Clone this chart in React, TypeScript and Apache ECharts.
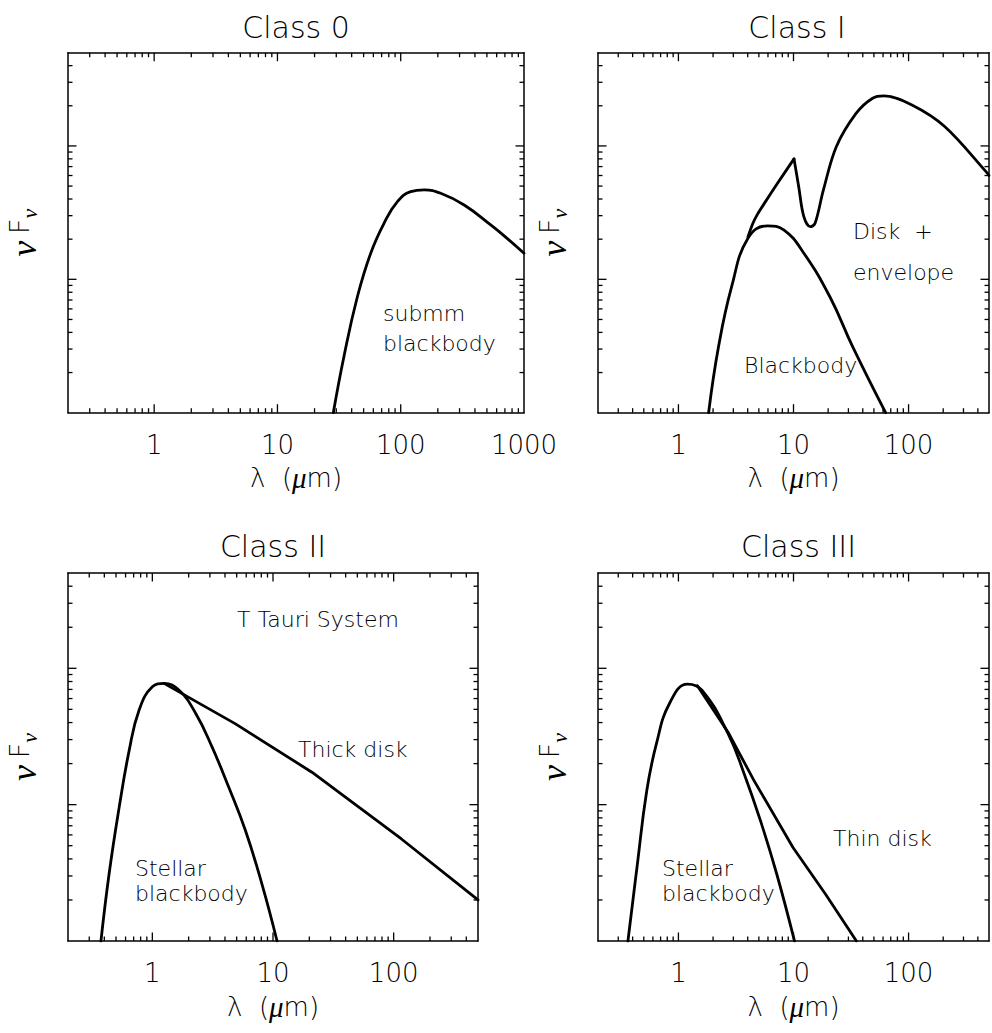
import React, { useEffect, useRef } from "react";
import * as echarts from "echarts";

// ---------- data ----------
const X_RANGE_CLASS0 = [0.2, 1000];
const X_RANGE = [0.2, 500];
const Y_RANGE = [0.1, 50];
const X_TICK_LABELS = ["1", "10", "100", "1000"];

const TITLES = ["Class 0", "Class I", "Class II", "Class III"];

// Class 0 : submm blackbody
const class0Lambda = [28.4, 34.6, 44.5, 57.1, 73.2, 94, 120.6, 154.8, 211, 327, 540, 650, 1000];
const class0Flux = [0.1, 0.263, 0.74, 1.57, 2.63, 3.82, 4.54, 4.68, 4.42, 3.61, 2.55, 2.22, 1.57];

// Class I : blackbody
const class1BbLambda = [1.83, 2.23, 2.9, 4.02, 5.96, 8.28, 12.3, 20.7, 32.8, 63.2];
const class1BbFlux = [0.1, 0.312, 0.88, 2.03, 2.52, 2.34, 1.57, 0.74, 0.31, 0.1];
// Class I : disk + envelope (rising part up to the 10 micron peak)
const class1RiseLambda = [4.02, 4.44, 4.83, 5.58, 7.26, 10.1];
const class1RiseFlux = [2.09, 2.63, 3.04, 3.71, 5.25, 8.0];
// Class I : disk + envelope (silicate dip and envelope peak)
const class1EnvLambda = [10.1, 11.1, 12.3, 14.0, 15.4, 18.2, 23.6, 35.1, 48.7, 61.2, 107, 206, 471, 500];
const class1EnvFlux = [8.0, 4.95, 2.95, 2.48, 2.63, 4.68, 9.9, 17.6, 22.8, 23.7, 20.3, 14.0, 6.42, 6.0];

// Class II : stellar blackbody
const class2StarLambda = [0.375, 0.438, 0.531, 0.643, 0.776, 1.0, 1.25, 1.66, 2.29, 3.13, 4.3, 5.92, 8.11, 10.8];
const class2StarFlux = [0.1, 0.31, 0.955, 2.5, 4.93, 7.32, 7.75, 6.92, 4.66, 2.64, 1.34, 0.643, 0.26, 0.1];
// Class II : thick disk
const class2DiskLambda = [1.25, 4.85, 21, 116, 500];
const class2DiskFlux = [7.75, 3.93, 1.73, 0.56, 0.2];

// Class III : stellar blackbody
const class3StarLambda = [0.364, 0.436, 0.531, 0.644, 0.836, 1.2, 1.6, 2.7, 3.73, 5.17, 7.15, 10.2];
const class3StarFlux = [0.1, 0.345, 1.27, 2.8, 5.52, 7.66, 6.92, 3.32, 1.68, 0.76, 0.31, 0.1];
// Class III : thin disk
const class3DiskLambda = [1.46, 2.7, 4.54, 9.9, 19, 35.2];
const class3DiskFlux = [7.45, 3.4, 1.5, 0.485, 0.22, 0.1];

// ---------- layout ----------
const GRIDS = [
  { left: 68, top: 52.7, width: 456, height: 360 },
  { left: 598, top: 52.7, width: 398, height: 360 },
  { left: 68, top: 573, width: 410, height: 368 },
  { left: 598, top: 573, width: 401, height: 368 },
];

const FONT = "DejaVu Sans";
const WEIGHT = 200;
const GREEK = "Liberation Serif";

const zip = (xs: number[], ys: number[]) => xs.map((x, i) => [x, ys[i]]);

function isPow10(v: number) {
  const l = Math.log10(v);
  return Math.abs(l - Math.round(l)) < 1e-6;
}

function tickSeries(g: number, xr: number[], yr: number[]) {
  const data: number[][] = [];
  for (let e = -1; e <= 3; e++) {
    for (let m = 1; m <= 9; m++) {
      const v = m * Math.pow(10, e);
      if (v <= xr[0] * 1.0001 || v >= xr[1] * 0.9999) continue;
      data.push([v, yr[0], 0, m === 1 ? 1 : 0]);
    }
  }
  for (let e = -1; e <= 2; e++) {
    for (let m = 1; m <= 9; m++) {
      const v = m * Math.pow(10, e);
      if (v <= yr[0] * 1.0001 || v >= yr[1] * 0.9999) continue;
      data.push([xr[0], v, 1, m === 1 ? 1 : 0]);
    }
  }
  return {
    type: "custom",
    xAxisIndex: g * 2,
    yAxisIndex: g * 2,
    coordinateSystem: "cartesian2d",
    silent: true,
    clip: false,
    z: 5,
    dimensions: ["x", "y", "kind", "major"],
    encode: { x: 0, y: 1 },
    data,
    renderItem: (params: any, api: any) => {
      const cs = params.coordSys;
      const kind = api.value(2);
      const major = api.value(3);
      const len = major ? 8.5 : 4.5;
      const style = { stroke: "#000", lineWidth: 1.3 };
      const p = api.coord([api.value(0), api.value(1)]);
      if (kind === 0) {
        const px = p[0];
        return {
          type: "group",
          children: [
            { type: "line", shape: { x1: px, y1: cs.y + cs.height, x2: px, y2: cs.y + cs.height - len }, style },
            { type: "line", shape: { x1: px, y1: cs.y, x2: px, y2: cs.y + len }, style },
          ],
        };
      }
      const py = p[1];
      return {
        type: "group",
        children: [
          { type: "line", shape: { x1: cs.x, y1: py, x2: cs.x + len, y2: py }, style },
          { type: "line", shape: { x1: cs.x + cs.width, y1: py, x2: cs.x + cs.width - len, y2: py }, style },
        ],
      };
    },
  };
}

function lineSeries(g: number, xs: number[], ys: number[], smooth: number | boolean) {
  return {
    type: "line",
    xAxisIndex: g * 2,
    yAxisIndex: g * 2,
    data: zip(xs, ys),
    symbol: "none",
    smooth,
    lineStyle: { color: "#000", width: 2.8, join: "round", cap: "round" },
    z: 3,
  };
}

export default function App() {
  const ref = useRef<HTMLDivElement>(null);

  useEffect(() => {
    if (!ref.current) return;
    const chart = echarts.init(ref.current, null, { renderer: "svg" });

    const axisLine = { show: true, lineStyle: { color: "#000", width: 1.5 } };
    const xAxes: any[] = [];
    const yAxes: any[] = [];
    GRIDS.forEach((_, g) => {
      const xr = g === 0 ? X_RANGE_CLASS0 : X_RANGE;
      xAxes.push({
        type: "log",
        gridIndex: g,
        position: "bottom",
        min: xr[0],
        max: xr[1],
        axisLine,
        axisTick: { show: false },
        splitLine: { show: false },
        minorTick: { show: false },
        axisLabel: {
          show: true,
          color: "#000",
          fontFamily: FONT,
          fontWeight: WEIGHT,
          fontSize: 26,
          margin: 19,
          showMinLabel: true,
          showMaxLabel: true,
          hideOverlap: false,
          formatter: (v: number) => {
            if (!isPow10(v)) return "";
            const idx = Math.round(Math.log10(v));
            return idx >= 0 && idx < X_TICK_LABELS.length ? X_TICK_LABELS[idx] : "";
          },
        },
        name: "{l|λ  (}{m|μ}{l|m)}",
        nameLocation: "middle",
        nameGap: 51,
        nameTextStyle: {
          rich: {
            l: { fontFamily: FONT, fontWeight: WEIGHT, fontSize: 26, color: "#000" },
            m: { fontFamily: GREEK, fontStyle: "italic", fontSize: 29, color: "#000" },
          },
        },
      });
      xAxes.push({
        type: "log",
        gridIndex: g,
        position: "top",
        min: xr[0],
        max: xr[1],
        axisLine,
        axisTick: { show: false },
        axisLabel: { show: false },
        splitLine: { show: false },
      });
      yAxes.push({
        type: "log",
        gridIndex: g,
        position: "left",
        min: Y_RANGE[0],
        max: Y_RANGE[1],
        axisLine,
        axisTick: { show: false },
        axisLabel: { show: false },
        splitLine: { show: false },
        name: "{n|ν}  {f|F}{s|ν}",
        nameLocation: "middle",
        nameRotate: 90,
        nameGap: 28,
        nameTextStyle: {
          rich: {
            n: { fontFamily: GREEK, fontStyle: "italic", fontSize: 36, color: "#000", verticalAlign: "top", lineHeight: 34 },
            f: { fontFamily: FONT, fontWeight: WEIGHT, fontSize: 27, color: "#000", verticalAlign: "top", lineHeight: 34 },
            s: { fontFamily: GREEK, fontStyle: "italic", fontSize: 22, color: "#000", verticalAlign: "bottom", lineHeight: 20 },
          },
        },
      });
      yAxes.push({
        type: "log",
        gridIndex: g,
        position: "right",
        min: Y_RANGE[0],
        max: Y_RANGE[1],
        axisLine,
        axisTick: { show: false },
        axisLabel: { show: false },
        splitLine: { show: false },
      });
    });

    const txt = (text: string, x: number, y: number, size = 22, align = "left", lineHeight = 30) => ({
      type: "text",
      x,
      y,
      silent: true,
      style: {
        text,
        fill: "#000",
        fontFamily: FONT,
        fontWeight: WEIGHT,
        fontSize: size,
        lineHeight,
        align,
        verticalAlign: "middle",
      },
    });

    const graphics: any[] = [
      ...GRIDS.map((gr, i) => txt(TITLES[i], gr.left + gr.width / 2, i < 2 ? 27 : 546, 30, "center", 36)),
      txt("submm\nblackbody", 383, 328, 22, "left", 30),
      txt("Disk  +\nenvelope", 853, 252, 22, "left", 41),
      txt("Blackbody", 744, 365),
      txt("T Tauri System", 237, 619),
      txt("Thick disk", 298, 749),
      txt("Stellar\nblackbody", 135, 881, 22, "left", 24.5),
      txt("Thin disk", 833, 838),
      txt("Stellar\nblackbody", 662, 881, 22, "left", 24.5),
    ];

    const series: any[] = [
      lineSeries(0, class0Lambda, class0Flux, 0.45),
      lineSeries(1, class1BbLambda, class1BbFlux, 0.45),
      lineSeries(1, class1RiseLambda, class1RiseFlux, 0.2),
      lineSeries(1, class1EnvLambda, class1EnvFlux, 0.35),
      lineSeries(2, class2StarLambda, class2StarFlux, 0.45),
      lineSeries(2, class2DiskLambda, class2DiskFlux, false),
      lineSeries(3, class3StarLambda, class3StarFlux, 0.45),
      lineSeries(3, class3DiskLambda, class3DiskFlux, false),
      tickSeries(0, X_RANGE_CLASS0, Y_RANGE),
      tickSeries(1, X_RANGE, Y_RANGE),
      tickSeries(2, X_RANGE, Y_RANGE),
      tickSeries(3, X_RANGE, Y_RANGE),
    ];

    chart.setOption({
      animation: false,
      backgroundColor: "#fff",
      grid: GRIDS.map((g) => ({ ...g, containLabel: false })),
      xAxis: xAxes,
      yAxis: yAxes,
      series,
      graphic: graphics,
    });

    return () => chart.dispose();
  }, []);

  return (
    <div style={{ position: "fixed", left: 0, top: 0, width: 992, height: 1033, overflow: "hidden", background: "#fff" }}>
      <div ref={ref} style={{ width: 992, height: 1033 }} />
    </div>
  );
}
